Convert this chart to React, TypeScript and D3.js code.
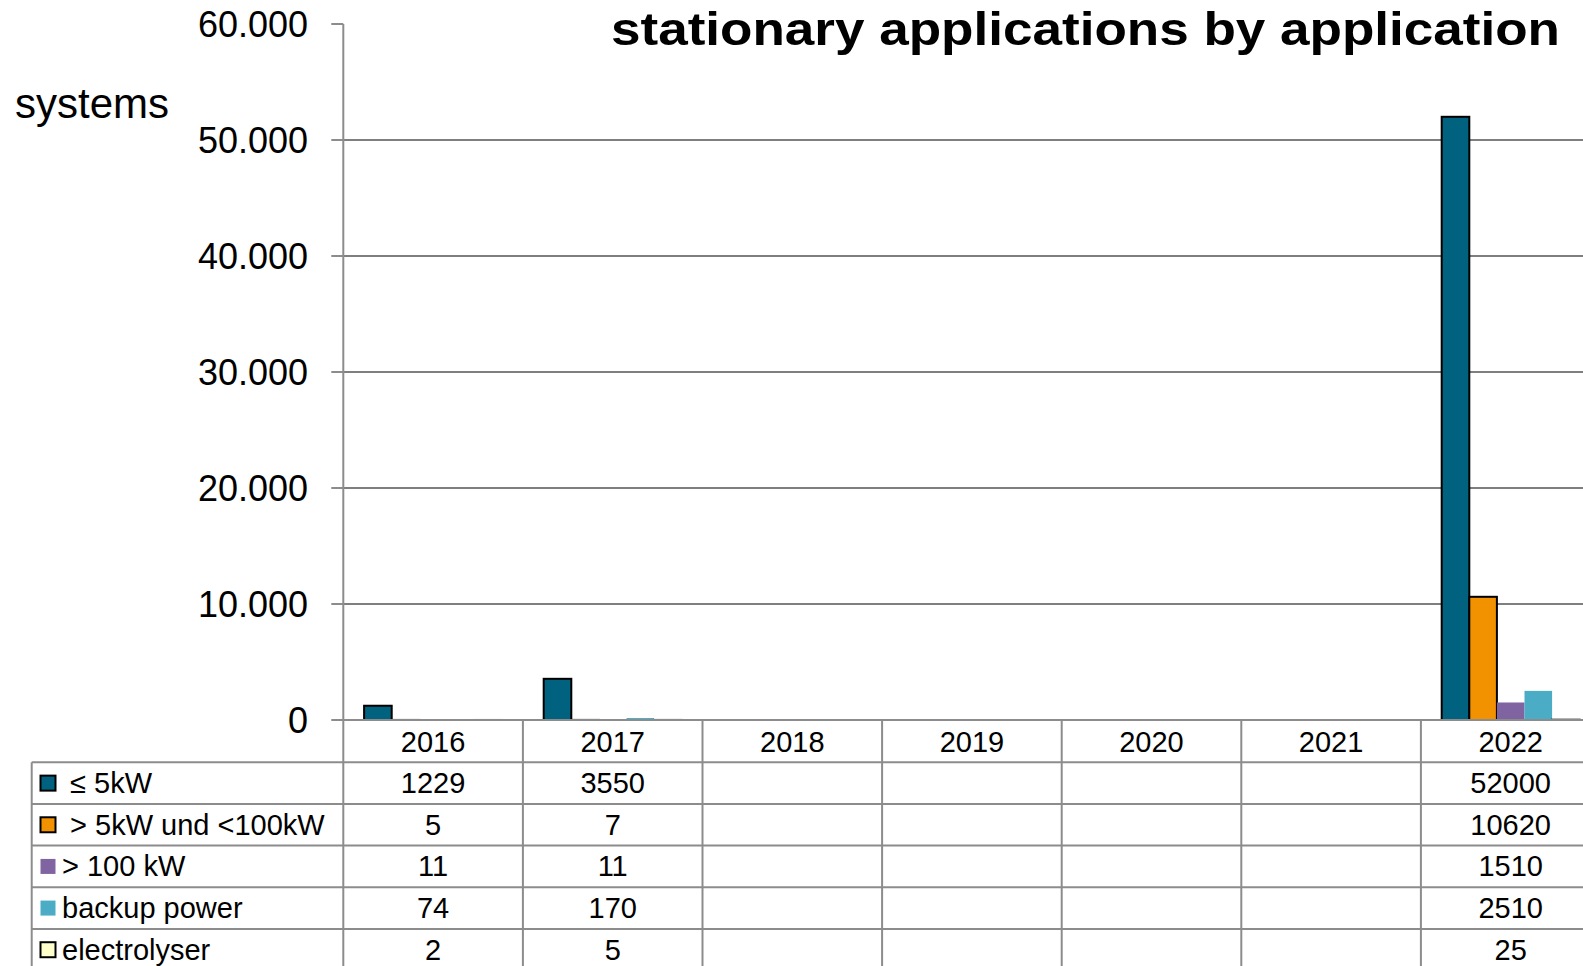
import React from "react";
import * as d3 from "d3";

const years = ["2016", "2017", "2018", "2019", "2020", "2021", "2022"];
const seriesNames = ["\u00A0≤ 5kW", "\u00A0> 5kW und <100kW", "> 100 kW", "backup power", "electrolyser"];
const seriesColors = ["#00627F", "#F39200", "#8064A2", "#4BACC6", "#FFFFCC"];
const seriesStroked = [true, true, false, false, true];
const small: (number | null)[] = [1229, 3550, null, null, null, null, 52000];
const medium: (number | null)[] = [5, 7, null, null, null, null, 10620];
const large: (number | null)[] = [11, 11, null, null, null, null, 1510];
const backup: (number | null)[] = [74, 170, null, null, null, null, 2510];
const electrolyser: (number | null)[] = [2, 5, null, null, null, null, 25];
const seriesValues = [small, medium, large, backup, electrolyser];
const yTicks = [0, 10000, 20000, 30000, 40000, 50000, 60000];

const W = 1583;
const H = 966;
const axisX = 343.3;
const colW = 179.6;
const y0 = 720;
const yTop = 24;
const tableTop = 762.3;
const rowH = 41.65;
const tableLeft = 31.7;
const font = "'Liberation Sans', Arial, sans-serif";
const lineGray = "#8c8c8c";

export default function App() {
  const x = d3.scaleBand<string>().domain(years).range([axisX, axisX + colW * years.length]).padding(0);
  const xs = d3.scaleBand<number>().domain(d3.range(seriesNames.length)).range([20.8, colW - 20.8]).padding(0);
  const y = d3.scaleLinear().domain([0, 60000]).range([y0, yTop]);
  const fmt = (v: number) => (v === 0 ? "0" : d3.format(",")(v).replace(/,/g, "."));

  return (
    <svg width={W} height={H} style={{ position: "absolute", left: 0, top: 0, background: "#fff" }} fontFamily={font}>
      <rect x={0} y={0} width={W} height={H} fill="#fff" />
      {/* gridlines */}
      {yTicks.filter((t) => t > 0 && t < 60000).map((t) => (
        <line key={t} x1={axisX} x2={W} y1={y(t)} y2={y(t)} stroke="#555" strokeWidth={1.5} />
      ))}
      {/* y ticks and labels */}
      {yTicks.map((t) => (
        <g key={"t" + t}>
          <line x1={axisX - 12} x2={axisX} y1={y(t)} y2={y(t)} stroke={lineGray} strokeWidth={2} />
          <text x={308} y={y(t)} textAnchor="end" dominantBaseline="central" fontSize={36} fill="#000">
            {fmt(t)}
          </text>
        </g>
      ))}
      {/* bars */}
      {seriesValues.map((vals, si) =>
        vals.map((v, yi) =>
          v == null ? null : (
            <rect
              key={si + "-" + yi}
              x={(x(years[yi]) as number) + (xs(si) as number)}
              y={y(v)}
              width={xs.bandwidth()}
              height={y0 - y(v)}
              fill={seriesColors[si]}
              stroke={seriesStroked[si] ? "#000" : "none"}
              strokeWidth={seriesStroked[si] ? 2 : 0}
            />
          )
        )
      )}
      {/* axis line */}
      <line x1={axisX} x2={axisX} y1={yTop} y2={H} stroke={lineGray} strokeWidth={2} />
      <line x1={axisX} x2={W} y1={y0} y2={y0} stroke={lineGray} strokeWidth={2} />
      {/* table */}
      {d3.range(seriesNames.length + 1).map((i) => (
        <line key={"h" + i} x1={tableLeft} x2={W} y1={tableTop + i * rowH} y2={tableTop + i * rowH} stroke={lineGray} strokeWidth={2} />
      ))}
      <line x1={tableLeft} x2={tableLeft} y1={tableTop} y2={H} stroke={lineGray} strokeWidth={2} />
      {years.map((yr, i) =>
        i === 0 ? null : (
          <line key={"v" + yr} x1={x(yr)} x2={x(yr)} y1={y0} y2={H} stroke={lineGray} strokeWidth={2} />
        )
      )}
      {years.map((yr) => (
        <text key={"y" + yr} x={(x(yr) as number) + colW / 2} y={(y0 + tableTop) / 2 + 1} textAnchor="middle" dominantBaseline="central" fontSize={29} fill="#000">
          {yr}
        </text>
      ))}
      {seriesNames.map((name, si) => {
        const cy = tableTop + si * rowH + rowH / 2;
        return (
          <g key={"r" + si}>
            <rect
              x={40.5}
              y={cy - 7.5}
              width={15}
              height={15}
              fill={seriesColors[si]}
              stroke={seriesStroked[si] ? "#000" : "none"}
              strokeWidth={seriesStroked[si] ? 2 : 0}
            />
            <text x={62} y={cy} dominantBaseline="central" fontSize={29} fill="#000" style={{ whiteSpace: "pre" }}>
              {name}
            </text>
            {seriesValues[si].map((v, yi) =>
              v == null ? null : (
                <text key={"c" + yi} x={(x(years[yi]) as number) + colW / 2} y={cy} textAnchor="middle" dominantBaseline="central" fontSize={29} fill="#000">
                  {v}
                </text>
              )
            )}
          </g>
        );
      })}
      {/* labels */}
      <text x={15} y={118} fontSize={42} fill="#000">systems</text>
      <text x={611} y={45} fontSize={46} fontWeight="bold" fill="#000" textLength={949} lengthAdjust="spacingAndGlyphs">
        stationary applications by application
      </text>
    </svg>
  );
}
